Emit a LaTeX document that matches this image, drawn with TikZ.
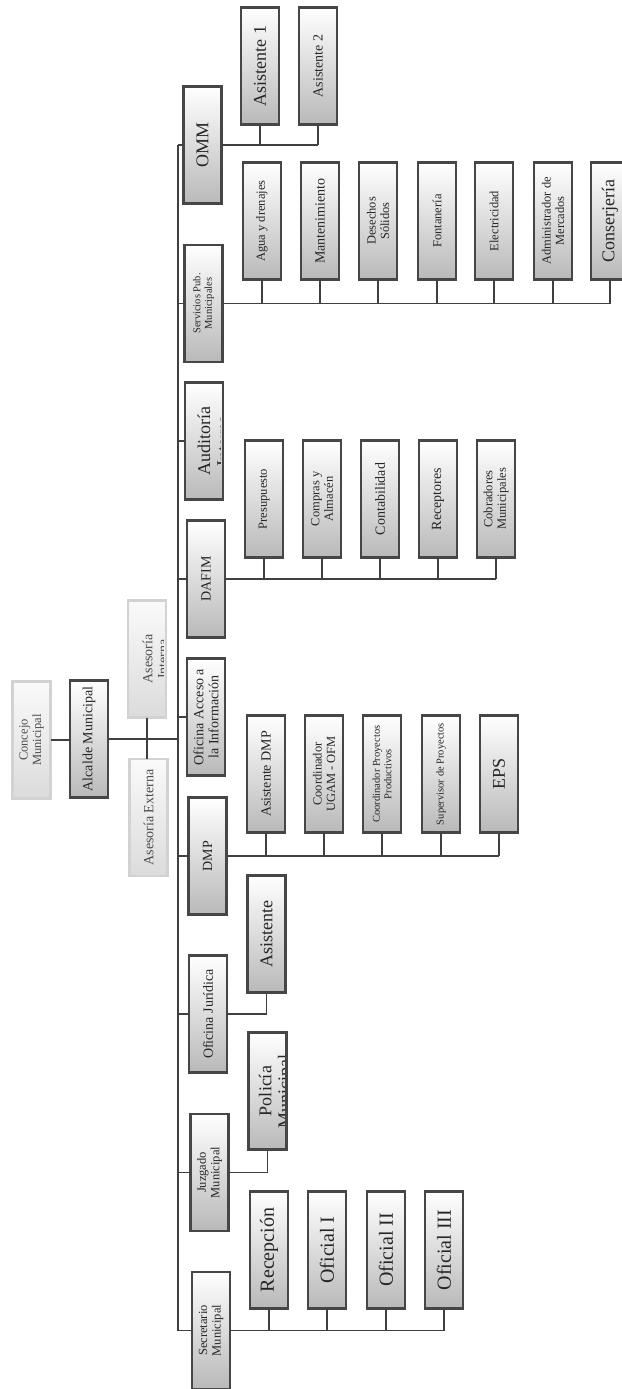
\documentclass[tikz,border=0pt]{standalone}
\usepackage{fontspec}
\setmainfont{Liberation Serif}
\usepackage{tikz}
\usetikzlibrary{calc, positioning}

\tikzset{
	box/.style={rotate=90, draw=gray!55!black, line width=2.6pt,
		top color=white, bottom color=gray!55, outer sep=0pt,
		minimum width=117pt, minimum height=38pt, inner sep=1pt,
		align=center, text=black!85, font=\fontsize{14}{15}\selectfont},
	lightbox/.style={box, draw=gray!35, top color=gray!4, bottom color=gray!28, text=black!70},
	link/.style={draw=black!75, line width=1.1pt},
	hugetxt/.style={font=\fontsize{20}{21}\selectfont},
	bigtxt/.style={font=\fontsize{18}{19}\selectfont},
	midtxt/.style={font=\fontsize{14}{15}\selectfont},
	smalltxt/.style={font=\fontsize{12.5}{13.5}\selectfont},
	tinytxt/.style={font=\fontsize{10.5}{11.5}\selectfont}
}

\begin{document}
\begin{tikzpicture}[x=1pt, y=-1pt]
	\fill[white] (0,0) rectangle (621,1389);
	\useasboundingbox (0,0) rectangle (621,1389);
	\coordinate (trunk) at (178,0);

	% top of the chart
	\node[lightbox, smalltxt] (concejo) at (31.5,740) {Concejo\\Municipal};
	\node[box, midtxt] (alcalde) at (89,739) {Alcalde Municipal};
	\node[lightbox] (asint) at (147,659) {};
	\node[lightbox, midtxt] (asext) at (148.5,817.5) {Asesoría Externa};

	% first level
	\node[box, bigtxt] (omm) at (202.5,145) {OMM};
	\node[box, tinytxt] (serv) at (203.5,303.5) {Servicios Pub.\\Municipales};
	\node[box] (audit) at (204,441) {};
	\node[box, midtxt] (dafim) at (206,579) {DAFIM};
	\node[box, midtxt] (acceso) at (206,717) {Oficina Acceso a\\la Información};
	\node[box, midtxt] (dmp) at (207.5,856) {DMP};
	\node[box, midtxt] (juridica) at (208,1014) {Oficina Jurídica};
	\node[box, smalltxt] (juzgado) at (209.5,1172.5) {Juzgado\\Municipal};
	\node[box, smalltxt] (secret) at (211,1330.5) {Secretario\\Municipal};

	% OMM
	\node[box, bigtxt] (asis1) at (260,66) {Asistente 1};
	\node[box, midtxt] (asis2) at (318,66) {Asistente 2};

	% servicios publicos
	\node[box, smalltxt] (agua) at (262,221) {Agua y drenajes};
	\node[box, midtxt] (mant) at (320,221) {Mantenimiento};
	\node[box, smalltxt] (desechos) at (378,221) {Desechos\\Sólidos};
	\node[box, smalltxt] (fonta) at (437,221) {Fontanería};
	\node[box, smalltxt] (elec) at (494,221) {Electricidad};
	\node[box, smalltxt] (admin) at (553,221) {Administrador de\\Mercados};
	\node[box, bigtxt] (conser) at (610,221) {Conserjería};

	% DAFIM
	\node[box, smalltxt] (presu) at (264,499) {Presupuesto};
	\node[box, smalltxt] (compras) at (322,499) {Compras y\\Almacén};
	\node[box, midtxt] (conta) at (380,499) {Contabilidad};
	\node[box, midtxt] (recept) at (438,499) {Receptores};
	\node[box, smalltxt] (cobra) at (496,499) {Cobradores\\Municipales};

	% DMP
	\node[box, midtxt] (asdmp) at (266,774) {Asistente DMP};
	\node[box, smalltxt] (ugam) at (324,774) {Coordinador\\UGAM - OFM};
	\node[box, tinytxt] (coordpp) at (382,774) {Coordinador Proyectos\\Productivos};
	\node[box, tinytxt] (superv) at (441,774) {Supervisor de Proyectos};
	\node[box, bigtxt] (eps) at (499,774) {EPS};

	% juridica, juzgado, secretaria
	\node[box, bigtxt] (asisoj) at (266.5,934) {Asistente};
	\node[box] (policia) at (267.5,1091) {};
	\node[box, hugetxt] (recepcion) at (269,1250) {Recepción};
	\node[box, hugetxt] (of1) at (327,1250) {Oficial I};
	\node[box, hugetxt] (of2) at (386,1250) {Oficial II};
	\node[box, hugetxt] (of3) at (444,1250) {Oficial III};

	% texts cut by the box
	\begin{scope}
		\clip ([xshift=2.5pt,yshift=2.5pt]asint.north west) rectangle ([xshift=-2.5pt,yshift=-2.5pt]asint.south east);
		\node[rotate=90, align=center, midtxt, text=black!70] at ([xshift=8pt]asint.center) {Asesoría\\Interna};
	\end{scope}
	\draw[gray!35, line width=2.6pt] (asint.north west) rectangle (asint.south east);
	\begin{scope}
		\clip ([xshift=2.5pt,yshift=2.5pt]audit.north west) rectangle ([xshift=-2.5pt,yshift=-2.5pt]audit.south east);
		\node[rotate=90, align=center, bigtxt, text=black!85] at ([xshift=9.5pt]audit.center) {Auditoría\\Interna};
	\end{scope}
	\draw[gray!55!black, line width=2.6pt] (audit.north west) rectangle (audit.south east);
	\begin{scope}
		\clip ([xshift=2.5pt,yshift=2.5pt]policia.north west) rectangle ([xshift=-2.5pt,yshift=-2.5pt]policia.south east);
		\node[rotate=90, align=center, bigtxt, text=black!85] at ([xshift=9pt]policia.center) {Policía\\Municipal};
	\end{scope}
	\draw[gray!55!black, line width=2.6pt] (policia.north west) rectangle (policia.south east);

	% connectors
	\draw[link] (concejo.south) -- (concejo.south -| alcalde.north);
	\draw[link, line width=2.6pt] (alcalde.south) -- (alcalde.south -| asint.center);
	\draw[link] (alcalde.south -| asint.center) -- (alcalde.south -| trunk);
	\draw[link] (asint.west) -- (asint.west |- asext.east);
	\draw[link] (omm.north -| trunk) -- (secret.north -| trunk);
	\foreach \n in {omm,serv,audit,dafim,acceso,dmp,juridica,juzgado,secret}
		\draw[link] (\n.north) -- (\n.north -| trunk);

	\draw[link] (omm.south) -- (omm.south -| asis2.west);
	\foreach \n in {asis1,asis2}
		\draw[link] (\n.west) -- (\n.west |- omm.south);
	\draw[link] (serv.south) -- (serv.south -| conser.west);
	\foreach \n in {agua,mant,desechos,fonta,elec,admin,conser}
		\draw[link] (\n.west) -- (\n.west |- serv.south);
	\draw[link] (dafim.south) -- (dafim.south -| cobra.west);
	\foreach \n in {presu,compras,conta,recept,cobra}
		\draw[link] (\n.west) -- (\n.west |- dafim.south);
	\draw[link] (dmp.south) -- (dmp.south -| eps.west);
	\foreach \n in {asdmp,ugam,coordpp,superv,eps}
		\draw[link] (\n.west) -- (\n.west |- dmp.south);
	\draw[link] (juridica.south) -| (asisoj.west);
	\draw[link] (juzgado.south) -| (policia.west);
	\draw[link] (secret.south) -- (secret.south -| of3.west);
	\foreach \n in {recepcion,of1,of2,of3}
		\draw[link] (\n.west) -- (\n.west |- secret.south);
\end{tikzpicture}
\end{document}
